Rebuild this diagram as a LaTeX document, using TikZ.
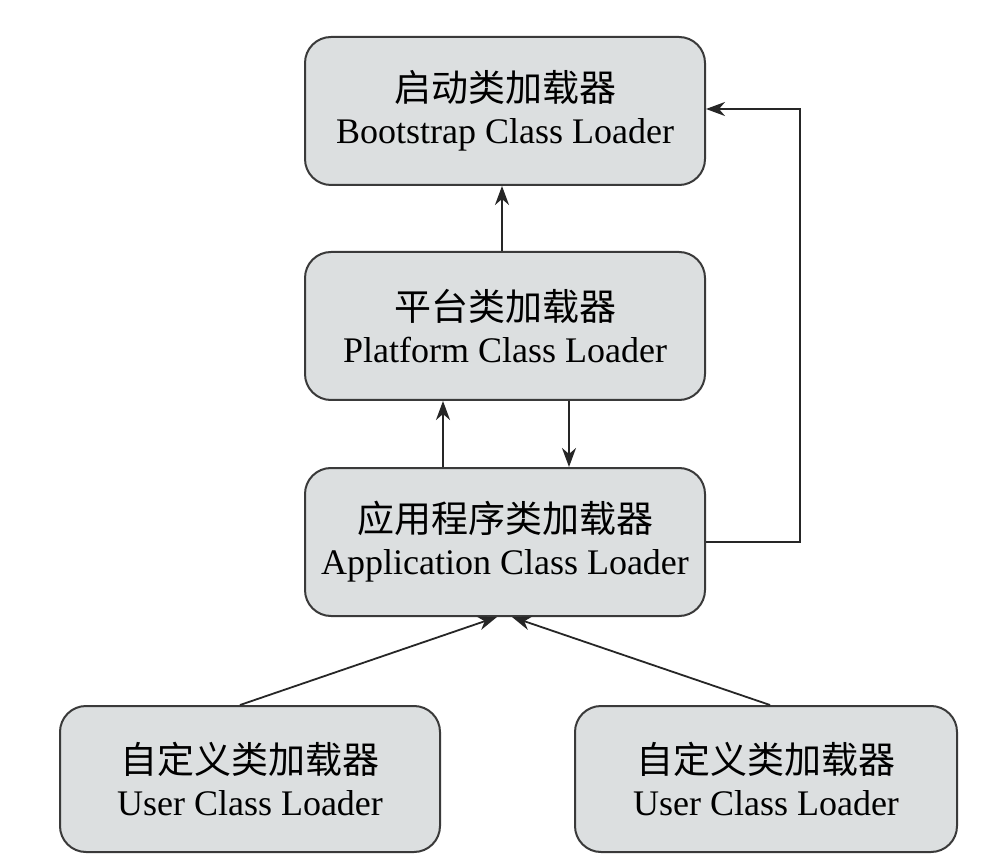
\documentclass[tikz,border=0pt]{standalone}
\usepackage{fontspec}
\setmainfont{Liberation Serif}
\newfontfamily\cjk{Noto Sans CJK SC}
\usetikzlibrary{arrows.meta}
\definecolor{boxfill}{HTML}{DCDFE0}
\definecolor{boxline}{HTML}{3A3A3A}
\tikzset{
  loader/.style={draw=boxline, line width=2pt, fill=boxfill, rounded corners=26pt,
    minimum width=400pt, minimum height=148pt, inner sep=0pt, align=center,
    font=\fontsize{36}{42}\selectfont},
  arr/.style={draw=black!85, line width=1.8pt, -{Stealth[length=19pt,width=14pt,inset=6pt]}}
}
\newcommand{\zh}[1]{{\cjk\fontsize{37}{42}\selectfont #1}}
\begin{document}
\begin{tikzpicture}[x=1pt,y=-1pt]
\useasboundingbox[fill=white] (0,0) rectangle (1004,866);
\node[loader] (boot) at (505,111) {\zh{启动类加载器}\\Bootstrap Class Loader};
\node[loader] (plat) at (505,326) {\zh{平台类加载器}\\Platform Class Loader};
\node[loader] (app) at (505,542) {\zh{应用程序类加载器}\\Application Class Loader};
\node[loader, minimum width=380pt, minimum height=146pt] (u1) at (250,779) {\zh{自定义类加载器}\\User Class Loader};
\node[loader, minimum width=382pt, minimum height=146pt] (u2) at (766,779) {\zh{自定义类加载器}\\User Class Loader};
\draw[arr] ([xshift=-3pt]plat.north) -- ([xshift=-3pt]boot.south);
\draw[arr] ([xshift=-62pt]app.north) -- ([xshift=-62pt]plat.south);
\draw[arr] ([xshift=64pt]plat.south) -- ([xshift=64pt]app.north);
\coordinate (corner) at (800,109);
\draw[arr] (app.east) -| (corner) -- (boot.east |- corner);
\draw[arr] ([xshift=-10pt]u1.north) -- ([xshift=-8pt]app.south);
\draw[arr] ([xshift=4pt]u2.north) -- ([xshift=7pt]app.south);
\end{tikzpicture}
\end{document}
